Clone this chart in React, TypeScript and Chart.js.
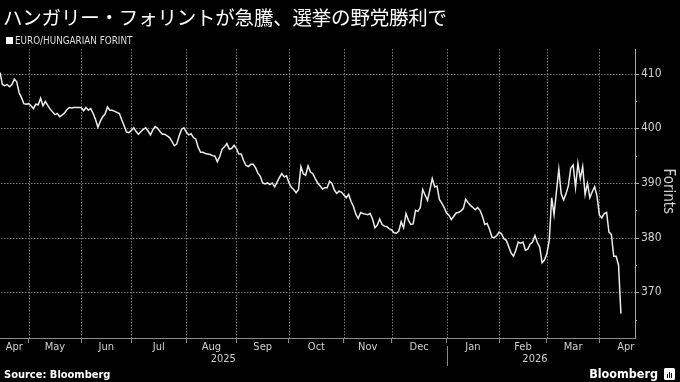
import React, { useEffect, useRef } from 'react';
import { Chart, registerables } from 'chart.js';

Chart.register(...registerables);

const TITLE = 'ハンガリー・フォリントが急騰、選挙の野党勝利で';
const SERIES_LABEL = 'EURO/HUNGARIAN FORINT';
const Y_TITLE = 'Forints';
const SOURCE = 'Source: Bloomberg';
const START_DATE = '2025-04-15';
const MONTH_KEYS = ['2025-04', '2025-05', '2025-06', '2025-07', '2025-08', '2025-09', '2025-10', '2025-11', '2025-12', '2026-01', '2026-02', '2026-03', '2026-04', '2026-05'];
const MONTH_LABELS = ['Apr', 'May', 'Jun', 'Jul', 'Aug', 'Sep', 'Oct', 'Nov', 'Dec', 'Jan', 'Feb', 'Mar', 'Apr'];
const YEAR_LABELS = ['2025', '2026'];
const YEAR_SPLIT = '2026-01-01';
const Y_TICKS = [370, 380, 390, 400, 410];
const Y_MINOR_TICKS = [365, 375, 385, 395, 405];
const Y_MIN = 361.64;
const Y_MAX = 414.5;

// EUR/HUF daily (weekday) closes, Apr 15 2025 -> Apr 14 2026
const eurHuf = [
  410.2, 408.0, 407.8, 408.0, 407.6, 408.0, 409.0, 408.5, 406.5, 405.6,
  404.5, 404.4, 404.5, 404.1, 403.6, 404.4, 404.3, 405.5, 404.1, 404.9,
  404.2, 403.5, 403.0, 402.5, 402.7, 402.1, 402.4, 402.8, 403.4, 403.8,
  403.7, 403.8, 403.8, 403.8, 403.8, 403.2, 403.8, 403.3, 403.6, 402.7,
  401.6, 400.2, 401.3, 402.1, 402.6, 403.9, 403.3, 403.3, 403.1, 402.9,
  402.7, 401.5, 400.4, 399.3, 399.2, 399.6, 400.1, 399.4, 398.9, 399.4,
  399.8, 400.1, 399.5, 398.8, 399.7, 400.3, 400.0, 399.4, 398.9, 398.9,
  398.6, 398.3, 397.6, 396.8, 397.1, 398.6, 399.8, 400.1, 399.3, 398.8,
  399.0, 398.3, 398.0, 396.5, 395.6, 395.6, 395.4, 395.3, 395.2, 395.0,
  394.9, 393.9, 394.8, 396.2, 396.6, 397.2, 396.2, 396.3, 396.9, 396.3,
  395.3, 395.3, 394.1, 393.2, 393.0, 393.4, 393.4, 392.8, 391.8, 391.2,
  390.0, 389.8, 390.0, 389.7, 390.0, 389.3, 390.1, 391.0, 391.7, 391.1,
  391.3, 390.0, 389.2, 388.8, 388.2, 388.8, 393.0, 391.7, 391.4, 393.1,
  392.0, 391.7, 390.8, 390.0, 389.5, 388.9, 389.1, 389.1, 390.3, 389.9,
  388.7, 388.1, 388.5, 388.3, 387.8, 387.3, 387.9, 386.6, 385.7, 384.3,
  383.5, 384.6, 384.4, 384.3, 384.2, 384.4, 383.4, 381.8, 382.3, 383.4,
  382.4, 382.1, 382.0, 381.6, 381.4, 380.9, 380.8, 381.2, 382.9, 381.8,
  384.4, 383.2, 382.4, 382.5, 385.0, 384.8, 385.5, 388.8, 387.8, 386.8,
  388.7, 390.8, 389.3, 389.4, 387.0, 386.3, 385.5, 384.5, 384.1, 383.3,
  383.9, 384.5, 384.6, 384.9, 385.3, 387.0, 386.4, 385.9, 385.5, 385.1,
  385.5, 385.0, 383.9, 382.4, 382.6, 381.5, 380.1, 380.0, 380.4, 381.0,
  380.7, 379.8, 379.5, 378.4, 377.2, 376.6, 377.7, 379.2, 379.0, 379.2,
  377.7, 377.9, 378.8, 379.2, 380.4, 379.1, 378.3, 375.4, 375.9, 377.1,
  379.5, 387.3, 384.2, 388.4, 392.5, 388.0, 386.9, 388.0, 389.5, 392.7,
  393.3, 389.2, 393.6, 390.8, 393.0, 387.9, 389.9, 387.3, 388.4, 389.3,
  387.6, 384.1, 383.6, 384.4, 384.6, 381.0, 380.6, 376.6, 376.6, 375.0,
  366.1,
];

// number of weekdays between START_DATE and a date (index of first trading day on/after it)
function weekdayIndex(dateStr: string): number {
  const from = new Date(START_DATE + 'T00:00:00Z');
  const to = new Date(dateStr + 'T00:00:00Z');
  const d = new Date(from);
  let n = 0;
  if (to >= from) {
    while (d < to) {
      const w = d.getUTCDay();
      if (w !== 0 && w !== 6) n++;
      d.setUTCDate(d.getUTCDate() + 1);
    }
  } else {
    while (d > to) {
      d.setUTCDate(d.getUTCDate() - 1);
      const w = d.getUTCDay();
      if (w !== 0 && w !== 6) n--;
    }
  }
  return n;
}

const monthStarts = MONTH_KEYS.map((k) => weekdayIndex(k + '-01'));
const monthTicks = monthStarts.slice(1, MONTH_LABELS.length);
const monthCenters = MONTH_LABELS.map((_, i) => (Math.max(monthStarts[i], 0) + monthStarts[i + 1]) / 2);
const yearSplit = weekdayIndex(YEAR_SPLIT);
const yearCenters = [yearSplit / 2, (yearSplit + eurHuf.length) / 2];

const X_MAX = eurHuf.length - 1 + 5.9;
const TICK_FONT = '"DejaVu Sans Condensed", "Liberation Sans Narrow", "DejaVu Sans", sans-serif';
const GRID_COLOR = '#7a7a7a';

function drawGrid(chart: any) {
  const { ctx, chartArea, scales } = chart;
  const xs = scales.x;
  const ys = scales.y;
  ctx.save();
  ctx.fillStyle = GRID_COLOR;
  const top = Math.round(chartArea.top);
  const bottom = Math.round(chartArea.bottom);
  const left = Math.round(chartArea.left);
  const right = Math.round(chartArea.right);
  monthTicks.forEach((v) => {
    const px = Math.round(xs.getPixelForValue(v));
    for (let y = top; y < bottom; y += 3) ctx.fillRect(px, y, 1, 1.5);
  });
  Y_TICKS.forEach((v) => {
    const py = Math.round(ys.getPixelForValue(v));
    for (let x = left + 1; x < right; x += 3) ctx.fillRect(x, py, 1.5, 1);
  });
  ctx.restore();
}

const decorPlugin = {
  id: 'decor',
  beforeDatasetsDraw(chart: any) {
    drawGrid(chart);
  },
  afterDraw(chart: any) {
    const { ctx, chartArea, scales } = chart;
    const xs = scales.x;
    const ys = scales.y;
    ctx.save();
    // right-axis tick marks
    ctx.strokeStyle = '#a8a8a8';
    ctx.lineWidth = 1;
    [...Y_TICKS, ...Y_MINOR_TICKS].forEach((v) => {
      const py = Math.round(ys.getPixelForValue(v)) + 0.5;
      const len = Y_TICKS.includes(v) ? 4 : 2;
      ctx.beginPath();
      ctx.moveTo(chartArea.right, py);
      ctx.lineTo(chartArea.right + len, py);
      ctx.stroke();
    });
    // month labels
    ctx.fillStyle = '#d0d0d0';
    ctx.font = '11px ' + TICK_FONT;
    ctx.textAlign = 'center';
    ctx.textBaseline = 'middle';
    MONTH_LABELS.forEach((lab, i) => {
      const w = ctx.measureText(lab).width;
      let cx = xs.getPixelForValue(monthCenters[i]);
      cx = Math.max(cx, chartArea.left + w / 2 + 1);
      cx = Math.min(cx, chartArea.right - w / 2);
      ctx.fillText(lab, cx, chartArea.bottom + 9);
    });
    // year labels
    YEAR_LABELS.forEach((lab, i) => {
      ctx.fillText(lab, xs.getPixelForValue(yearCenters[i]), chartArea.bottom + 21);
    });
    // year separator
    const sx = Math.round(xs.getPixelForValue(yearSplit)) + 0.5;
    ctx.strokeStyle = '#888';
    ctx.beginPath();
    ctx.moveTo(sx, chartArea.bottom + 8);
    ctx.lineTo(sx, chartArea.bottom + 28);
    ctx.stroke();
    // axis title
    ctx.save();
    ctx.translate(668, (ys.getPixelForValue(Y_TICKS[2]) + ys.getPixelForValue(Y_TICKS[1])) / 2 - 19);
    ctx.rotate(Math.PI / 2);
    ctx.font = '15px ' + TICK_FONT;
    ctx.fillStyle = '#d0d0d0';
    ctx.textAlign = 'center';
    ctx.fillText(Y_TITLE, 0, 0);
    ctx.restore();
    ctx.restore();
  },
};

export default function App() {
  const canvasRef = useRef<HTMLCanvasElement | null>(null);

  useEffect(() => {
    document.body.style.margin = '0';
    document.body.style.background = '#000';
    const canvas = canvasRef.current;
    if (!canvas) return;
    const chart = new Chart(canvas, {
      type: 'line',
      data: {
        datasets: [
          {
            label: SERIES_LABEL,
            data: eurHuf.map((v, i) => ({ x: i, y: v })),
            borderColor: '#ececec',
            borderWidth: 1.5,
            pointRadius: 0,
            tension: 0,
            fill: false,
          },
        ],
      },
      options: {
        animation: false,
        responsive: false,
        maintainAspectRatio: false,
        devicePixelRatio: 1,
        layout: { padding: { top: 49, left: 0, right: 0, bottom: 0 } },
        plugins: { legend: { display: false }, tooltip: { enabled: false }, title: { display: false } },
        scales: {
          x: {
            type: 'linear',
            min: 0,
            max: X_MAX,
            afterBuildTicks: (s: any) => {
              s.ticks = monthTicks.map((v) => ({ value: v }));
            },
            afterFit: (s: any) => {
              s.height = 44;
            },
            grid: {
              drawOnChartArea: false,
              drawTicks: true,
              tickLength: 5,
              tickColor: '#8a8a8a',
              tickWidth: 1,
            },
            border: { display: true, color: '#8a8a8a', width: 1 },
            ticks: { display: false },
          },
          y: {
            type: 'linear',
            position: 'right',
            min: Y_MIN,
            max: Y_MAX,
            afterBuildTicks: (s: any) => {
              s.ticks = Y_TICKS.map((v) => ({ value: v }));
            },
            afterFit: (s: any) => {
              s.width = 45;
            },
            grid: { drawOnChartArea: false, drawTicks: false },
            border: { display: true, color: '#a8a8a8', width: 1 },
            ticks: {
              color: '#d0d0d0',
              padding: 6,
              font: { size: 12, family: TICK_FONT },
              callback: (v: any) => String(v),
            },
          },
        },
      },
      plugins: [decorPlugin],
    });
    return () => chart.destroy();
  }, []);

  const txt = '"DejaVu Sans Condensed", "Liberation Sans Narrow", "DejaVu Sans", sans-serif';
  return (
    <div style={{ position: 'relative', width: 680, height: 382, background: '#000', overflow: 'hidden' }}>
      <canvas ref={canvasRef} width={680} height={382} style={{ position: 'absolute', left: 0, top: 0, width: 680, height: 382 }} />
      <div
        style={{
          position: 'absolute', left: 3, top: 2, fontSize: 19.5, lineHeight: '30px', color: '#fff',
          fontFamily: '"Noto Sans CJK JP", sans-serif', whiteSpace: 'nowrap', letterSpacing: -0.2,
        }}
      >
        {TITLE}
      </div>
      <div style={{ position: 'absolute', left: 6, top: 37, width: 7, height: 7, background: '#fff' }} />
      <div
        style={{
          position: 'absolute', left: 15, top: 34, fontSize: 9.8, lineHeight: '13px', color: '#ddd',
          fontFamily: txt, whiteSpace: 'nowrap',
        }}
      >
        {SERIES_LABEL}
      </div>
      <div
        style={{
          position: 'absolute', left: 4, top: 368, fontSize: 11, lineHeight: '14px', color: '#fff',
          fontWeight: 'bold', fontFamily: txt, whiteSpace: 'nowrap',
        }}
      >
        {SOURCE}
      </div>
      <div
        style={{
          position: 'absolute', right: 22, top: 366, fontSize: 12.5, lineHeight: '16px', color: '#fff',
          fontWeight: 'bold', fontFamily: txt, whiteSpace: 'nowrap',
        }}
      >
        Bloomberg
      </div>
      <div style={{ position: 'absolute', left: 664, top: 368, width: 11, height: 12, background: '#fff', borderRadius: 1.5 }}>
        <div style={{ position: 'absolute', left: 3, top: 6, width: 1, height: 4, background: '#000' }} />
        <div style={{ position: 'absolute', left: 5, top: 4, width: 1, height: 6, background: '#000' }} />
        <div style={{ position: 'absolute', left: 7, top: 5, width: 1, height: 5, background: '#000' }} />
      </div>
    </div>
  );
}
